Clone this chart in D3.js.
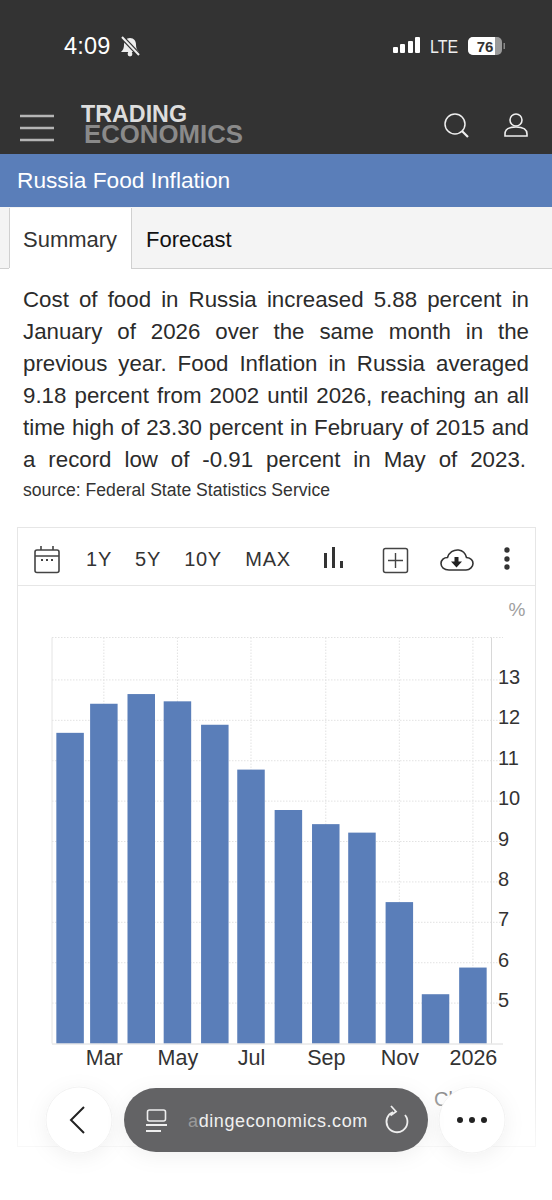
<!DOCTYPE html>
<html>
<head>
<meta charset="utf-8">
<script src="https://cdn.jsdelivr.net/npm/d3@7"></script>
<style>
    html, body { margin: 0; padding: 0; background: #fff; }
    #page { position: relative; width: 552px; height: 1200px; overflow: hidden; font-family: "Liberation Sans", sans-serif; }
    svg { position: absolute; left: 0; top: 0; }
    .para { position: absolute; left: 23px; width: 506px; font-size: 22.3px; line-height: 32px; color: #2b2b2b; text-align: justify; text-align-last: justify; white-space: nowrap; }
    .para.last { width: 503px; }
</style>
</head>
<body>
<div id="page"></div>
<script>
// chart values
var months = ["2025-02-01", "2025-03-01", "2025-04-01", "2025-05-01", "2025-06-01", "2025-07-01",
              "2025-08-01", "2025-09-01", "2025-10-01", "2025-11-01", "2025-12-01", "2026-01-01"];
var foodInflation = [11.69, 12.41, 12.65, 12.47, 11.89, 10.78, 9.78, 9.43, 9.22, 7.5, 5.22, 5.88];
var yTicks = [5, 6, 7, 8, 9, 10, 11, 12, 13];
var xTickMonths = ["2025-03-01", "2025-05-01", "2025-07-01", "2025-09-01", "2025-11-01", "2026-01-01"];
var xTickLabels = ["Mar", "May", "Jul", "Sep", "Nov", "2026"];
var rangeButtons = ["1Y", "5Y", "10Y", "MAX"];
var summaryLines = [
    "Cost of food in Russia increased 5.88 percent in",
    "January of 2026 over the same month in the",
    "previous year. Food Inflation in Russia averaged",
    "9.18 percent from 2002 until 2026, reaching an all",
    "time high of 23.30 percent in February of 2015 and",
    "a record low of -0.91 percent in May of 2023."
];

var parseDay = d3.utcParse("%Y-%m-%d");
var page = d3.select("#page");

var svg = page.append("svg").attr("width", 552).attr("height", 1200);

var blue = "#5a7eb9";

// Dark phone / site header
svg.append("rect").attr("width", 552).attr("height", 154).attr("fill", "#333333");
svg.append("text").attr("x", 64).attr("y", 54).attr("fill", "#fff")
    .style("font-size", "23.5px").style("font-family", "Liberation Sans").style("letter-spacing", "0.2px").text("4:09");

// muted bell
var bell = svg.append("g").attr("transform", "translate(120,36)").attr("fill", "#eee");
bell.append("path").attr("d", "M10 2c-4 0-6 3-6 7 0 3-1 5-3 7h18c-2-2-3-4-3-7 0-4-2-7-6-7z");
bell.append("circle").attr("cx", 10).attr("cy", 18).attr("r", 2.4);
bell.append("line").attr("x1", 2).attr("y1", 1).attr("x2", 19).attr("y2", 19)
    .attr("stroke", "#333").attr("stroke-width", 4.5);
bell.append("line").attr("x1", 2).attr("y1", 1).attr("x2", 19).attr("y2", 19)
    .attr("stroke", "#eee").attr("stroke-width", 2);

// signal bars
[[393, 47, 6], [400, 44, 9], [408, 41, 12], [415, 37, 16]].forEach(function(b) {
    svg.append("rect").attr("x", b[0]).attr("y", b[1]).attr("width", 5).attr("height", b[2])
        .attr("rx", 1).attr("fill", "#fff");
});
svg.append("text").attr("x", 430).attr("y", 53).attr("textLength", 28).attr("lengthAdjust", "spacingAndGlyphs").attr("fill", "#eee")
    .style("font-size", "19px").text("LTE");
svg.append("rect").attr("x", 468).attr("y", 37).attr("width", 34).attr("height", 18).attr("rx", 5).attr("fill", "#9a9a9a");
svg.append("path").attr("d", "M473 37h22v18h-22a5 5 0 0 1-5-5v-8a5 5 0 0 1 5-5z").attr("fill", "#fff");
svg.append("rect").attr("x", 503.5).attr("y", 43).attr("width", 1.5).attr("height", 6).attr("fill", "#888");
svg.append("text").attr("x", 485).attr("y", 51.5).attr("text-anchor", "middle").attr("fill", "#333")
    .style("font-size", "15px").style("font-weight", "bold").text("76");

// hamburger, logo, search, user
[116, 128, 140].forEach(function(y) {
    svg.append("line").attr("x1", 20).attr("x2", 54).attr("y1", y).attr("y2", y)
        .attr("stroke", "#b5b5b5").attr("stroke-width", 2.4);
});
svg.append("text").attr("x", 81).attr("y", 122).attr("textLength", 106).attr("lengthAdjust", "spacingAndGlyphs")
    .attr("fill", "#dddddd").style("font-size", "23.5px").style("font-weight", "bold").text("TRADING");
svg.append("text").attr("x", 84).attr("y", 143).attr("textLength", 159).attr("lengthAdjust", "spacingAndGlyphs")
    .attr("fill", "#8a8a8a").style("font-size", "25px").style("font-weight", "bold").text("ECONOMICS");

svg.append("circle").attr("cx", 455).attr("cy", 124).attr("r", 10)
    .attr("fill", "none").attr("stroke", "#eee").attr("stroke-width", 1.5);
svg.append("line").attr("x1", 462).attr("y1", 131).attr("x2", 468).attr("y2", 137)
    .attr("stroke", "#eee").attr("stroke-width", 2.2);
svg.append("circle").attr("cx", 516).attr("cy", 120).attr("r", 6)
    .attr("fill", "none").attr("stroke", "#eee").attr("stroke-width", 1.6);
svg.append("path").attr("d", "M505 136v-2c0-5 5-7 11-7s11 2 11 7v2z")
    .attr("fill", "none").attr("stroke", "#eee").attr("stroke-width", 1.6);

// Blue title strip
svg.append("rect").attr("y", 154).attr("width", 552).attr("height", 53).attr("fill", blue);
svg.append("text").attr("x", 17).attr("y", 188).attr("fill", "#fff")
    .style("font-size", "22.7px").text("Russia Food Inflation");

// Tabs
svg.append("rect").attr("y", 207).attr("width", 552).attr("height", 62).attr("fill", "#f4f4f4");
svg.append("line").attr("x1", 0).attr("x2", 552).attr("y1", 268.5).attr("y2", 268.5).attr("stroke", "#d0d0d0");
svg.append("rect").attr("x", 9).attr("y", 208).attr("width", 122).attr("height", 62).attr("fill", "#fff");
svg.append("path").attr("d", "M9.5 208V268M131.5 208V269").attr("stroke", "#d0d0d0").attr("fill", "none");
svg.append("text").attr("x", 23).attr("y", 247).attr("fill", "#333").style("font-size", "22px").text("Summary");
svg.append("text").attr("x", 146).attr("y", 247).attr("fill", "#111").style("font-size", "22px").text("Forecast");

// Summary paragraph
summaryLines.forEach(function(line, i) {
    page.append("div").attr("class", i === 5 ? "para last" : "para").style("top", (284 + i * 32) + "px").text(line);
});
svg.append("text").attr("x", 23).attr("y", 496).attr("fill", "#333")
    .style("font-size", "17.6px").text("source: Federal State Statistics Service");

// Card and toolbar
svg.append("rect").attr("x", 17.5).attr("y", 527.5).attr("width", 518).attr("height", 619)
    .attr("fill", "#fff").attr("stroke", "#e6e6e6");
svg.append("line").attr("x1", 18).attr("x2", 535).attr("y1", 585.5).attr("y2", 585.5).attr("stroke", "#e6e6e6");

var rangeCenters = [99, 148, 203, 268];
rangeButtons.forEach(function(label, i) {
    svg.append("text").attr("x", rangeCenters[i]).attr("y", 566).attr("text-anchor", "middle")
        .attr("fill", "#333").style("font-size", "20px").style("letter-spacing", "0.7px").text(label);
});

// calendar icon
var cal = svg.append("g").attr("fill", "none").attr("stroke", "#444").attr("stroke-width", 1.6);
cal.append("rect").attr("x", 35).attr("y", 550).attr("width", 24).attr("height", 22.5).attr("rx", 2);
cal.append("path").attr("d", "M35 556H59M41 546V550M53 546V550");
[42, 47, 52].forEach(function(x) {
    svg.append("rect").attr("x", x - 1).attr("y", 559).attr("width", 2).attr("height", 2).attr("fill", "#444");
});

// bars icon
[[324, 553, 15], [332, 547, 21], [340, 561, 7]].forEach(function(b) {
    svg.append("rect").attr("x", b[0]).attr("y", b[1]).attr("width", 3).attr("height", b[2]).attr("fill", "#333");
});

// plus box
svg.append("rect").attr("x", 383.5).attr("y", 548.5).attr("width", 24).attr("height", 24).attr("rx", 2)
    .attr("fill", "none").attr("stroke", "#444").attr("stroke-width", 1.5);
svg.append("path").attr("d", "M395.5 553V568M388 560.5H403").attr("stroke", "#444").attr("stroke-width", 1.4);

// cloud download icon
svg.append("path").attr("d", "M449 570c-5 0-8-3-8-6.5s3-6 6.5-6c1.5-5 6-8 11-7.5 4 .5 7 3.5 8 7.5 4 .5 6.5 3 6.5 6s-3 6.5-7 6.5z")
    .attr("fill", "none").attr("stroke", "#333").attr("stroke-width", 1.6);
svg.append("path").attr("d", "M454.5 557h4v4.5h3.5l-5.5 6-5.500-6h3.5z").attr("fill", "#222");

[550, 559, 567].forEach(function(y) {
    svg.append("circle").attr("cx", 507).attr("cy", y).attr("r", 2.7).attr("fill", "#333");
});

svg.append("text").attr("x", 517).attr("y", 616).attr("text-anchor", "middle").attr("fill", "#a0a0a0")
    .style("font-size", "19px").text("%");

// Chart
var plotLeft = 52, plotRight = 491, plotTop = 637.5, plotBottom = 1043.5, gridRight = 503;

var x = d3.scaleUtc()
    .domain([parseDay("2025-01-17"), parseDay("2026-01-16")])
    .range([plotLeft, plotRight]);
var y = d3.scaleLinear().domain([4, 14.05]).range([plotBottom, plotTop]);
var barWidth = 27.5;

var chart = svg.append("g");

// dotted horizontal grid
chart.append("g").selectAll("line").data(yTicks.concat([14.05])).join("line")
    .attr("x1", plotLeft).attr("x2", gridRight)
    .attr("y1", function(d) { return y(d); }).attr("y2", function(d) { return y(d); })
    .attr("stroke", "#e2e2e2").attr("stroke-dasharray", "1.5,1.5");

// dotted vertical grid
chart.append("g").selectAll("line").data(xTickMonths).join("line")
    .attr("x1", function(d) { return x(parseDay(d)); }).attr("x2", function(d) { return x(parseDay(d)); })
    .attr("y1", plotTop).attr("y2", plotBottom)
    .attr("stroke", "#e2e2e2").attr("stroke-dasharray", "1.5,1.5");

chart.append("line").attr("x1", plotLeft).attr("x2", plotLeft).attr("y1", plotTop).attr("y2", plotBottom)
    .attr("stroke", "#e4e4e4");

chart.append("g").selectAll("rect").data(months).join("rect")
    .attr("x", function(d) { return x(parseDay(d)) - barWidth / 2; })
    .attr("y", function(d, i) { return y(foodInflation[i]); })
    .attr("width", barWidth)
    .attr("height", function(d, i) { return plotBottom - y(foodInflation[i]); })
    .attr("fill", blue);

// axes
var yAxis = d3.axisRight(y).tickValues(yTicks).tickSize(0).tickPadding(7).tickFormat(d3.format("d"));
var yAxisG = chart.append("g").attr("transform", "translate(" + plotRight + ",0)").call(yAxis);
yAxisG.select(".domain").attr("stroke", "#d8d8d8").attr("d", "M0.5," + plotTop + "V" + plotBottom);
yAxisG.selectAll("text").attr("dy", "0.18em").attr("fill", "#333")
    .style("font-size", "20px").style("font-family", "Liberation Sans");

var xAxis = d3.axisBottom(x)
    .tickValues(xTickMonths.map(parseDay))
    .tickSize(0).tickPadding(6)
    .tickFormat(function(d, i) { return xTickLabels[i]; });
var xAxisG = chart.append("g").attr("transform", "translate(0," + plotBottom + ")").call(xAxis);
xAxisG.select(".domain").attr("stroke", "#dcdcdc").attr("d", "M" + plotLeft + ",0.5H" + gridRight);
xAxisG.selectAll("text").attr("fill", "#333")
    .style("font-size", "21.5px").style("font-family", "Liberation Sans");

// Browser bar floating over the page bottom
var defs = svg.append("defs");
var fade = defs.append("linearGradient").attr("id", "bottom-fade").attr("x1", 0).attr("x2", 0).attr("y1", 0).attr("y2", 1);
fade.append("stop").attr("offset", "0%").attr("stop-color", "#fff").attr("stop-opacity", 0);
fade.append("stop").attr("offset", "70%").attr("stop-color", "#fff").attr("stop-opacity", 0.9);
fade.append("stop").attr("offset", "100%").attr("stop-color", "#fff").attr("stop-opacity", 1);
var shadow = defs.append("filter").attr("id", "soft-shadow").attr("x", "-40%").attr("y", "-60%").attr("width", "180%").attr("height", "220%");
shadow.append("feDropShadow").attr("dx", 0).attr("dy", 4).attr("stdDeviation", 10)
    .attr("flood-color", "#000").attr("flood-opacity", 0.06);

svg.append("text").attr("x", 434).attr("y", 1106).attr("fill", "#777").style("font-size", "20px").text("Cl");
svg.append("rect").attr("y", 1075).attr("width", 552).attr("height", 125).attr("fill", "url(#bottom-fade)");

[79, 472].forEach(function(cx) {
    svg.append("circle").attr("cx", cx).attr("cy", 1120).attr("r", 33)
        .attr("fill", "#fff").attr("stroke", "#f2f2f2").attr("filter", "url(#soft-shadow)");
});
svg.append("path").attr("d", "M84 1107L71 1120L84 1133").attr("fill", "none").attr("stroke", "#222").attr("stroke-width", 2);
[460, 472, 484].forEach(function(cx) {
    svg.append("circle").attr("cx", cx).attr("cy", 1120).attr("r", 3).attr("fill", "#222");
});

svg.append("rect").attr("x", 124).attr("y", 1088).attr("width", 304).attr("height", 64).attr("rx", 32)
    .attr("fill", "#636365").attr("filter", "url(#soft-shadow)");
svg.append("rect").attr("x", 147.5).attr("y", 1110).attr("width", 18).attr("height", 11).attr("rx", 2)
    .attr("fill", "none").attr("stroke", "#eee").attr("stroke-width", 1.6);
svg.append("path").attr("d", "M146 1125H167M146 1131H161").attr("stroke", "#eee").attr("stroke-width", 1.8);
var urlText = svg.append("text").attr("x", 188).attr("y", 1127).attr("fill", "#f0f0f0")
    .style("font-size", "18px").style("letter-spacing", "0.6px");
urlText.append("tspan").attr("fill", "#9a9a9a").text("a");
urlText.append("tspan").text("dingeconomics.com");
svg.append("path").attr("d", "M393 1112a10.5 10.5 0 1 0 12 3M391 1106l5 5.5-5.5 4")
    .attr("fill", "none").attr("stroke", "#eee").attr("stroke-width", 1.8);
</script>
</body>
</html>
